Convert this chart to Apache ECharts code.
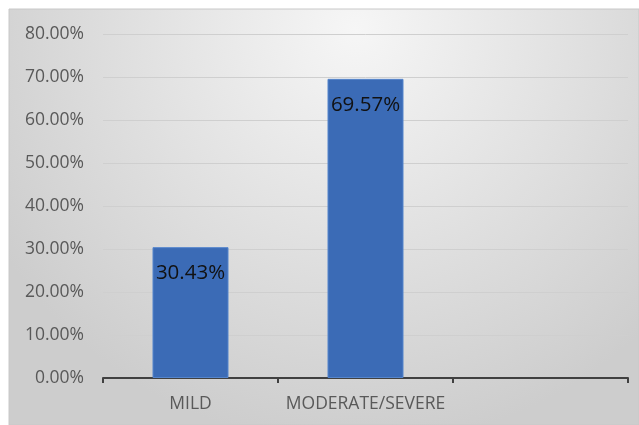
<!DOCTYPE html>
<html>
<head>
    <meta charset="utf-8">
    <title>Severity</title>
    <script src="https://cdn.jsdelivr.net/npm/echarts@6/dist/echarts.min.js"></script>
    <style>
        body { margin: 0; background: #fff; }
    </style>
</head>
<body>
    <div id="chart" style="width: 639px;height:425px;"></div>
    <script type="text/javascript">
        // data
        var categories = ['MILD', 'MODERATE/SEVERE', ''];
        var percentValues = [30.43, 69.57, null];
        var yTicks = [0, 10, 20, 30, 40, 50, 60, 70, 80];

        var chart = echarts.init(document.getElementById('chart'));
        var option = {
            animation: false,
            graphic: [
                {
                    type: 'rect',
                    z: -10,
                    shape: { x: 9, y: 9, width: 630, height: 416 },
                    style: {
                        fill: new echarts.graphic.RadialGradient(0.55, 0.05, 1.0, [
                            { offset: 0, color: '#f6f6f6' },
                            { offset: 1, color: '#cdcdcd' }
                        ]),
                        stroke: '#c8c8c8',
                        lineWidth: 1
                    }
                }
            ],
            grid: {
                left: 103,
                right: 11,
                top: 34,
                bottom: 47
            },
            xAxis: {
                type: 'category',
                data: categories,
                axisLine: { lineStyle: { color: '#404040', width: 2 } },
                axisTick: { show: true, length: 5, lineStyle: { color: '#404040', width: 2 } },
                axisLabel: {
                    interval: 0,
                    hideOverlap: false,
                    color: '#595959',
                    fontSize: 17.5,
                    fontFamily: 'Open Sans',
                    margin: 17
                }
            },
            yAxis: {
                type: 'value',
                min: yTicks[0],
                max: yTicks[yTicks.length - 1],
                interval: 10,
                axisLine: { show: false },
                axisTick: { show: false },
                splitLine: { lineStyle: { color: '#cfcfcf', width: 1 } },
                axisLabel: {
                    color: '#595959',
                    fontSize: 17.5,
                    fontFamily: 'Open Sans',
                    margin: 19,
                    formatter: function (v) { return v.toFixed(2) + '%'; }
                }
            },
            series: [
                {
                    type: 'bar',
                    data: percentValues,
                    barWidth: 76,
                    itemStyle: {
                        color: '#3b6bb6',
                        borderColor: '#5585cc',
                        borderWidth: 1
                    },
                    label: {
                        show: true,
                        position: 'insideTop',
                        distance: 16,
                        color: '#111',
                        fontSize: 20.5,
                        fontFamily: 'Open Sans',
                        formatter: function (p) { return p.value.toFixed(2) + '%'; }
                    }
                }
            ]
        };
        chart.setOption(option);
    </script>
</body>
</html>
